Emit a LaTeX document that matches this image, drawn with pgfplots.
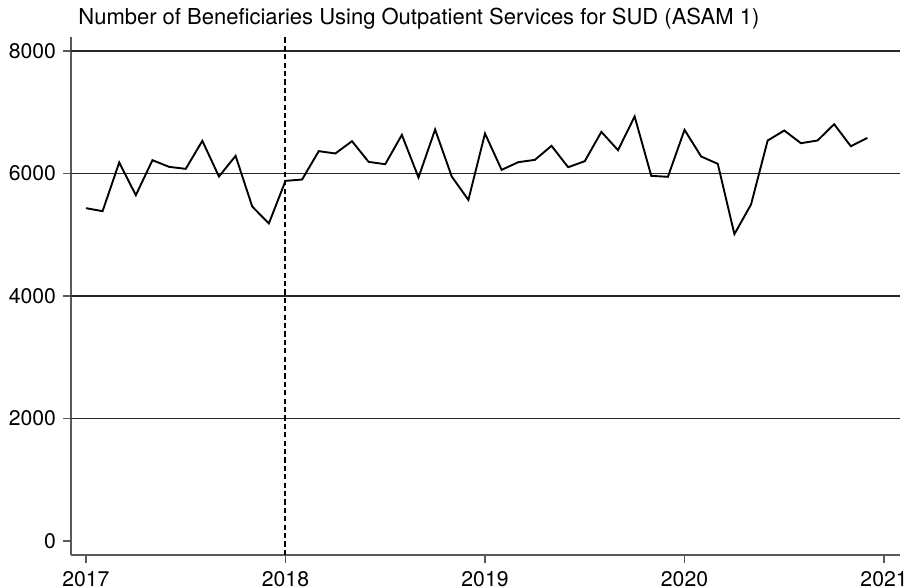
\documentclass[border=0pt]{standalone}
\usepackage{fontspec}
\setmainfont{TeX Gyre Heros}
\usepackage{pgfplots}
\pgfplotsset{compat=1.18}

% monthly counts, Jan 2017 -- Dec 2020
\pgfplotstableread{
x y
2017.0000 5434
2017.0833 5385
2017.1667 6180
2017.2500 5646
2017.3333 6218
2017.4167 6109
2017.5000 6076
2017.5833 6533
2017.6667 5951
2017.7500 6288
2017.8333 5461
2017.9167 5184
2018.0000 5880
2018.0833 5902
2018.1667 6365
2018.2500 6327
2018.3333 6528
2018.4167 6190
2018.5000 6152
2018.5833 6631
2018.6667 5935
2018.7500 6718
2018.8333 5951
2018.9167 5569
2019.0000 6653
2019.0833 6060
2019.1667 6185
2019.2500 6223
2019.3333 6452
2019.4167 6103
2019.5000 6201
2019.5833 6680
2019.6667 6381
2019.7500 6931
2019.8333 5962
2019.9167 5946
2020.0000 6713
2020.0833 6278
2020.1667 6158
2020.2500 5010
2020.3333 5494
2020.4167 6539
2020.5000 6702
2020.5833 6495
2020.6667 6539
2020.7500 6805
2020.8333 6446
2020.9167 6582
}\benef

\begin{document}
\begin{tikzpicture}
\path[use as bounding box] (-35.5pt,-16.5pt) rectangle (419pt,277.5pt);
\begin{axis}[
    at={(0,0)}, anchor=south west,
    scale only axis,
    width=414.5pt, height=259pt,
    xmin=2016.925, xmax=2021.08,
    ymin=-229, ymax=8229,
    axis x line*=bottom, axis y line*=left,
    axis line style={black!65, line width=0.6pt},
    xtick={2017,2018,2019,2020,2021},
    ytick={0,2000,4000,6000,8000},
    tick align=outside,
    major tick length=4pt,
    tick style={black!65, line width=0.6pt},
    xticklabel style={/pgf/number format/1000 sep={}, yshift=-0.5pt},
    yticklabel style={/pgf/number format/1000 sep={}},
    /pgf/number format/assume math mode=true,
    tick label style={font=\fontsize{10.6}{12}\selectfont},
    extra y ticks={2000,4000,6000,8000},
    extra y tick labels={},
    extra y tick style={major tick length=0pt, grid=major},
    grid style={black!85, line width=0.55pt},
    title={Number of Beneficiaries Using Outpatient Services for SUD (ASAM 1)},
    title style={at={(0,1)}, anchor=base west, xshift=3.5pt, yshift=0pt,
        inner sep=0pt, font=\fontsize{11}{13}\selectfont},
    clip=false,
]
\addplot[black, line width=1pt, dash pattern=on 2.6pt off 1.6pt]
    coordinates {(2018,-229) (2018,8229)};
\addplot[black, line width=0.95pt, mark=none] table[x=x, y=y] {\benef};
\end{axis}
\end{tikzpicture}
\end{document}
